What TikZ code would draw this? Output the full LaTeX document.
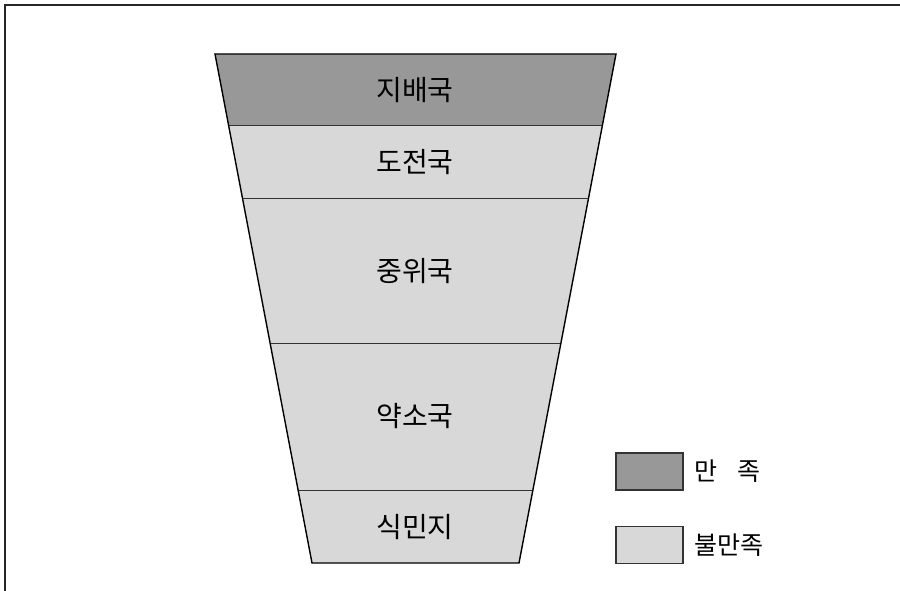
\documentclass[tikz,border=0pt]{standalone}
\usepackage{fontspec}
\newfontfamily\kr{Noto Sans CJK KR}
\definecolor{darkfill}{HTML}{989898}
\definecolor{lightfill}{HTML}{D8D8D8}
\tikzset{
  band/.style={draw=black!80, line width=1pt},
  lbl/.style={font=\kr\fontsize{28}{32}\selectfont, inner sep=0pt},
  leglbl/.style={font=\kr\fontsize{25}{30}\selectfont, inner sep=0pt, anchor=west},
  legbox/.style={draw=black!80, line width=1.2pt, minimum width=67pt, minimum height=37pt, inner sep=0pt},
}
\begin{document}
\begin{tikzpicture}[x=1pt,y=-1pt]
\useasboundingbox (0,0) rectangle (900,591);
\draw[line width=1.5pt, black!85] (5,591) -- (5,5) -- (900,5);
% band boundaries: y = 54,126,198,343,490,563
\def\xl#1{215+(#1-54)/509*97}
\def\xr#1{616-(#1-54)/509*97}
\fill[darkfill] ({\xl{54}},54) -- ({\xr{54}},54) -- ({\xr{126}},126) -- ({\xl{126}},126) -- cycle;
\fill[lightfill] ({\xl{126}},126) -- ({\xr{126}},126) -- ({\xr{563}},563) -- ({\xl{563}},563) -- cycle;
\draw[band] ({\xl{126}},126) -- ({\xr{126}},126);
\draw[band] ({\xl{198}},198) -- ({\xr{198}},198);
\draw[band] ({\xl{343}},343) -- ({\xr{343}},343);
\draw[band] ({\xl{490}},490) -- ({\xr{490}},490);
\draw[line width=1.4pt] ({\xl{54}},54) -- ({\xr{54}},54) -- ({\xr{563}},563) -- ({\xl{563}},563) -- cycle;
\node[lbl] (a) at (415,90) {지배국};
\node[lbl] (b) at (415,162) {도전국};
\node[lbl] (c) at (415,271) {중위국};
\node[lbl] (d) at (415,416) {약소국};
\node[lbl] (e) at (415,527) {식민지};
\node[legbox, fill=darkfill] (k1) at (649.5,471.5) {};
\node[legbox, fill=lightfill] (k2) at (649.5,545) {};
\node[leglbl] (t1) at (694,471) {만\hspace{0.8em}족};
\node[leglbl] (t2) at (694,545) {불만족};
\end{tikzpicture}
\end{document}
